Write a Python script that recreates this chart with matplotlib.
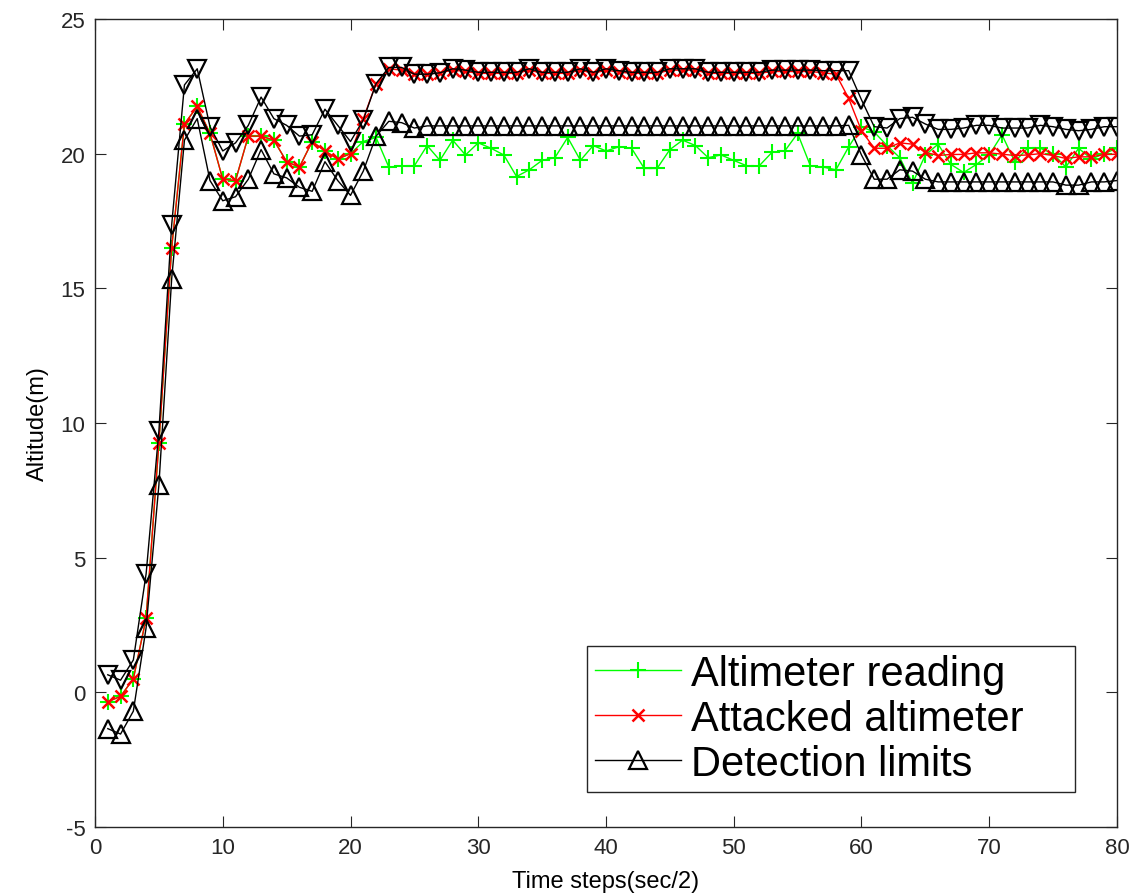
import numpy as np
import matplotlib.pyplot as plt

plt.rcParams['axes.unicode_minus'] = False

# time steps 1..80
steps = np.arange(1, 81)

altimeter = [-0.35, -0.15, 0.5, 2.75, 9.25, 16.5, 21.1, 21.75, 20.75, 19.05,
             19.0, 20.65, 20.65, 20.5, 19.7, 19.5, 20.45, 20.1, 19.8, 20.0,
             20.45, 20.6, 19.5, 19.55, 19.55, 20.3, 19.75, 20.5, 19.95, 20.4,
             20.2, 19.95, 19.15, 19.4, 19.75, 19.85, 20.6, 19.75, 20.3, 20.1,
             20.25, 20.2, 19.45, 19.45, 20.15, 20.5, 20.3, 19.85, 19.95, 19.75,
             19.55, 19.55, 20.05, 20.1, 20.75, 19.55, 19.5, 19.4, 20.25, 21.0,
             20.8, 20.3, 19.85, 18.9, 19.95, 20.35, 19.6, 19.3, 19.6, 19.95,
             20.7, 19.7, 20.2, 20.2, 20.0, 19.5, 20.2, 19.8, 20.0, 20.2]

attacked = [-0.35, -0.15, 0.5, 2.75, 9.25, 16.5, 21.1, 21.75, 20.75, 19.05,
            19.0, 20.65, 20.65, 20.5, 19.7, 19.5, 20.45, 20.1, 19.8, 20.0,
            21.3, 22.6, 23.15, 23.1, 22.95, 22.95, 23.0, 23.1, 23.05, 22.98,
            22.98, 22.98, 22.98, 23.1, 22.98, 22.98, 22.98, 23.1, 22.98, 23.1,
            23.03, 22.98, 22.98, 22.98, 23.1, 23.1, 23.1, 22.98, 22.98, 22.98,
            22.98, 22.98, 23.05, 23.05, 23.05, 23.05, 23.0, 22.95, 22.05, 20.85,
            20.2, 20.2, 20.4, 20.35, 20.05, 19.93, 19.97, 19.97, 20.03, 20.03,
            19.98, 19.93, 19.95, 20.0, 19.93, 19.82, 19.88, 19.88, 19.97, 19.98]

upper = [0.65, 0.45, 1.2, 4.4, 9.7, 17.35, 22.55, 23.15, 21.0, 20.1,
         20.4, 21.05, 22.1, 21.3, 21.05, 20.65, 20.7, 21.65, 21.05, 20.45,
         21.25, 22.6, 23.2, 23.2, 22.95, 22.95, 23.0, 23.15, 23.1, 23.02,
         23.02, 23.02, 23.02, 23.15, 23.02, 23.02, 23.02, 23.15, 23.02, 23.15,
         23.08, 23.02, 23.02, 23.02, 23.15, 23.15, 23.15, 23.02, 23.02, 23.02,
         23.02, 23.02, 23.1, 23.1, 23.1, 23.1, 23.08, 23.08, 23.08, 22.0,
         21.0, 20.95, 21.3, 21.35, 21.1, 20.9, 20.9, 20.95, 21.05, 21.05,
         20.95, 20.95, 20.95, 21.05, 21.0, 20.9, 20.85, 20.9, 21.0, 21.0]

lower = [-1.35, -1.55, -0.7, 2.4, 7.7, 15.35, 20.5, 21.3, 19.0, 18.25,
         18.4, 19.05, 20.15, 19.25, 19.1, 18.75, 18.6, 19.7, 19.0, 18.45,
         19.35, 20.65, 21.2, 21.15, 20.95, 21.03, 21.03, 21.03, 21.03, 21.03,
         21.03, 21.03, 21.03, 21.03, 21.03, 21.03, 21.03, 21.03, 21.03, 21.03,
         21.03, 21.03, 21.03, 21.03, 21.03, 21.03, 21.03, 21.03, 21.03, 21.03,
         21.03, 21.03, 21.03, 21.03, 21.03, 21.03, 21.03, 21.03, 21.05, 19.95,
         19.05, 19.05, 19.4, 19.35, 19.05, 18.95, 18.95, 18.95, 18.95, 18.95,
         18.95, 18.95, 18.95, 18.95, 18.95, 18.83, 18.83, 18.95, 18.95, 19.0]

font = ['Liberation Sans', 'DejaVu Sans']

fig = plt.figure(figsize=(11.38, 8.95), dpi=100)
ax = fig.add_axes([0.0835, 0.0749, 0.898, 0.9028])

ax.plot(steps, altimeter, color=(0, 1, 0), lw=1, marker='+', ms=12, mew=1.5,
        label='Altimeter reading')
ax.plot(steps, attacked, color=(1, 0, 0), lw=1, marker='x', ms=9, mew=1.8,
        label='Attacked altimeter')
ax.plot(steps, lower, color='k', lw=1, marker='^', ms=13, mew=1.6,
        mfc='none', label='Detection limits')
ax.plot(steps, upper, color='k', lw=1, marker='v', ms=13, mew=1.6,
        mfc='none', label='_nolegend_')

ax.set_xlim(0, 80)
ax.set_ylim(-5, 25)
ax.set_xticks(np.arange(0, 81, 10))
ax.set_yticks(np.arange(-5, 26, 5))
ax.tick_params(direction='in', length=8, top=True, right=True,
               labelsize=16, colors='#262626', pad=7)
for lab in ax.get_xticklabels() + ax.get_yticklabels():
    lab.set_family(font)
for sp in ax.spines.values():
    sp.set_color('#262626')
    sp.set_linewidth(1)

ax.set_xlabel('Time steps(sec/2)', fontsize=17, family=font, labelpad=9)
ax.set_ylabel('Altitude(m)', fontsize=17, family=font, labelpad=8)

# legend box stretched to the width of the original one
leg = ax.legend(loc='lower left', bbox_to_anchor=(0.4814, 0.043, 0.4775, 0.18),
                mode='expand', prop={'family': font, 'size': 30},
                fancybox=False, edgecolor='#262626', framealpha=1,
                handlelength=2.05, handletextpad=0.25, labelspacing=0.12,
                borderpad=0.2, borderaxespad=0)
leg.get_frame().set_linewidth(1)

fig.savefig('out.png', dpi=100)
